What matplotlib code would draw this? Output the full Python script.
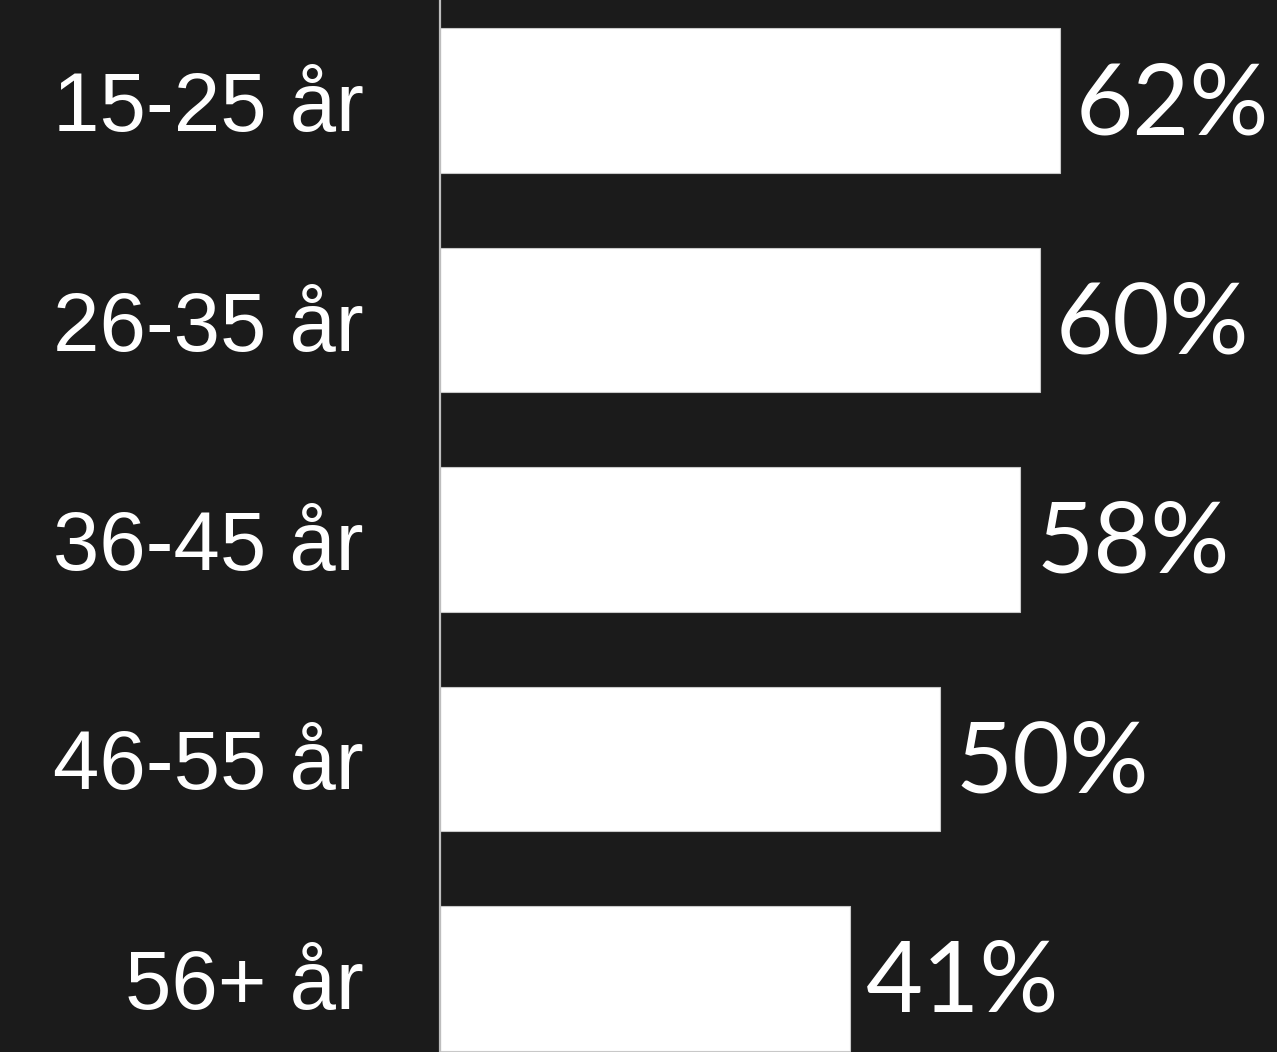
import matplotlib
matplotlib.use("Agg")
import matplotlib.pyplot as plt

categories = ["15-25 år", "26-35 år", "36-45 år", "46-55 år", "56+ år"]
values = [62, 60, 58, 50, 41]
value_labels = ["62%", "60%", "58%", "50%", "41%"]

bg = "#1b1b1b"
fig = plt.figure(figsize=(12.77, 10.52), dpi=100, facecolor=bg)
ax = fig.add_axes([440 / 1277, 0, 837 / 1277, 1])
ax.set_facecolor(bg)

y = list(range(len(categories)))
ax.barh(y, values, height=0.66, color="white", edgecolor="#c8c8c8", linewidth=0.8)
ax.set_xlim(0, 83.7)
ax.set_ylim(4.335, -0.458)

for s in ["top", "right", "bottom"]:
    ax.spines[s].set_visible(False)
ax.spines["left"].set_color("#bdbdbd")
ax.spines["left"].set_linewidth(1.6)

ax.set_xticks([])
ax.set_yticks(y)
ax.set_yticklabels(categories, fontsize=60, color="white", family=["Liberation Sans", "DejaVu Sans"])
ax.tick_params(axis="y", length=0, pad=55)
for t in ax.get_yticklabels():
    t.set_y(t.get_position()[1])

for yi, v, lab in zip(y, values, value_labels):
    ax.text(v + 1.6, yi + 0.025, lab, va="center", ha="left", fontsize=71, color="white",
            family=["Lato", "DejaVu Sans"])

fig.savefig("out.png", dpi=100, facecolor=bg)
